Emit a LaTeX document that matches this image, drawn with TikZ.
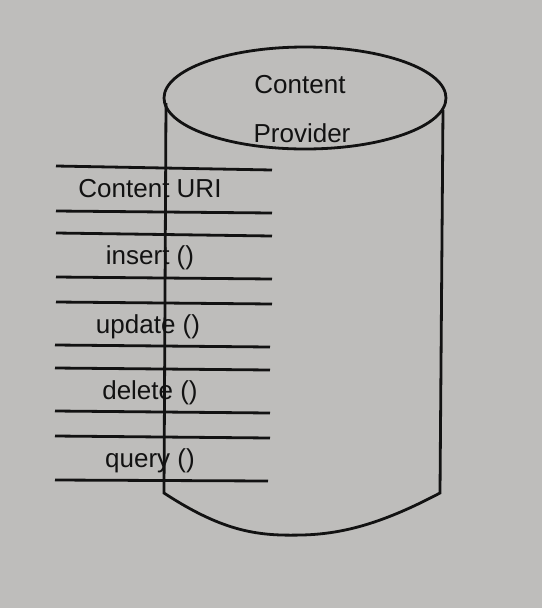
\documentclass[tikz,border=0pt]{standalone}
\usepackage{fontspec}
\setmainfont{Liberation Sans}
\definecolor{paper}{RGB}{190,189,187}
\definecolor{ink}{RGB}{18,18,18}

\begin{document}
\begin{tikzpicture}[x=0.75pt, y=-0.75pt, line width=2.1pt, ink,
    lbl/.style={anchor=base, inner sep=0pt, font=\fontsize{19.5}{23}\selectfont}]
                % Background and page size
                \fill[paper] (0,0) rectangle (542,608);
                \useasboundingbox (0,0) rectangle (542,608);

                % Cylinder top
                \draw (305,98) ellipse [x radius=141, y radius=51];
                \node[lbl] (title1) at (300,93) {Content};
                \node[lbl] (title2) at (302,142) {Provider};

                % Cylinder sides and bottom
                \draw (166,103) -- (164,493) .. controls (225,533) and (260,536) .. (302,535)
                      .. controls (345,534) and (385,522) .. (440,493) -- (443,110);

                % Bands - Content URI
                \draw (56,166) -- (272,170);
                \draw (56,211) -- (272,213);
                \node[lbl] (uri) at (150,197) {Content URI};

                % Bands - insert
                \draw (56,233) -- (272,236);
                \draw (56,277) -- (272,279);
                \node[lbl] (insert) at (150,264) {insert ()};

                % Bands - update
                \draw (56,302) -- (272,304);
                \draw (55,345) -- (270,347);
                \node[lbl] (update) at (148,333) {update ()};

                % Bands - delete
                \draw (55,368) -- (270,370);
                \draw (55,411) -- (270,413);
                \node[lbl] (delete) at (150,399) {delete ()};

                % Bands - query
                \draw (55,436) -- (270,438);
                \draw (55,480) -- (268,481);
                \node[lbl] (query) at (150,467) {query ()};

            \end{tikzpicture}
\end{document}
